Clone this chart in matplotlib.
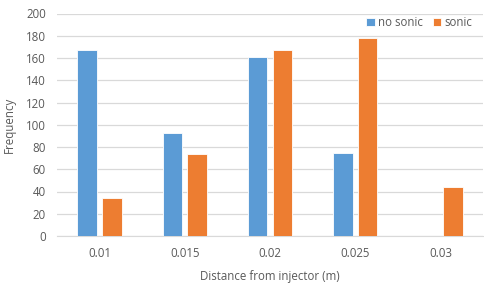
import matplotlib
matplotlib.use("Agg")
import matplotlib.pyplot as plt
import numpy as np

categories = ["0.01", "0.015", "0.02", "0.025", "0.03"]
no_sonic = [167, 93, 161, 75, 0]
sonic = [34, 74, 167, 178, 44]

plt.rcParams["font.family"] = ["Open Sans", "DejaVu Sans"]
txt = "#595959"
fs = 8.3

fig = plt.figure(figsize=(4.85, 2.84), dpi=100)
ax = fig.add_axes([57 / 485, 1 - 236 / 284, (483 - 57) / 485, (236 - 13.5) / 284])

x = np.arange(len(categories))
w = 0.23
ax.bar(x - 0.145, no_sonic, w, color="#5B9BD5", edgecolor="white", linewidth=0.6, label="no sonic", zorder=3)
ax.bar(x + 0.145, sonic, w, color="#ED7D31", edgecolor="white", linewidth=0.6, label="sonic", zorder=3)

ax.set_xlim(-0.5, len(categories) - 0.5)
ax.set_ylim(0, 200)
ax.set_yticks(range(0, 201, 20))
ax.set_xticks(x)
ax.set_xticklabels(categories)
ax.yaxis.grid(True, color="#D9D9D9", linewidth=0.9, zorder=0)
for s in ["top", "right", "left"]:
    ax.spines[s].set_visible(False)
ax.spines["bottom"].set_color("#D9D9D9")
ax.tick_params(axis="both", length=0, labelsize=fs, colors=txt)
ax.tick_params(axis="x", pad=8)
ax.tick_params(axis="y", pad=8)

ax.set_xlabel("Distance from injector (m)", fontsize=fs, color=txt, labelpad=7)
ax.set_ylabel("Frequency", fontsize=fs, color=txt, labelpad=7)

ax.legend(loc="upper right", bbox_to_anchor=(1.0, 1.035), ncol=2, frameon=False,
          fontsize=fs, labelcolor=txt, handlelength=0.7, handleheight=0.7,
          handletextpad=0.3, columnspacing=0.9)

fig.savefig("out.png", dpi=100)
